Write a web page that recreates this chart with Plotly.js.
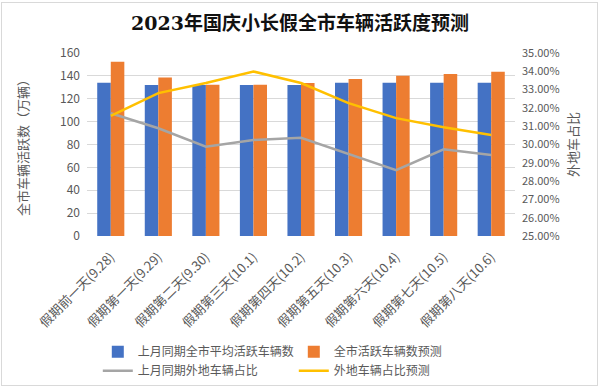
<!DOCTYPE html>
<html>
<head>
<meta charset="utf-8">
<script src="https://cdn.plot.ly/plotly-3.0.1.min.js"></script>
<style>
html,body{margin:0;padding:0;background:#fff;}
#wrap{position:absolute;left:1px;top:2px;width:597px;height:384px;border:1px solid #d9d9d9;box-sizing:border-box;}
#chart{position:absolute;left:0;top:0;width:600px;height:389px;}
</style>
</head>
<body>
<div id="wrap"></div>
<div id="chart"></div>
<script>
const categories = ["假期前一天(9.28)","假期第一天(9.29)","假期第二天(9.30)","假期第三天(10.1)","假期第四天(10.2)","假期第五天(10.3)","假期第六天(10.4)","假期第七天(10.5)","假期第八天(10.6)"];
const lastMonthActive = [134, 132, 132, 132, 132, 134, 134, 134, 134];
const forecastActive = [152.4, 138.6, 132.2, 132.2, 133.7, 137.2, 140.1, 141.6, 143.6];
const lastMonthOutsideShare = [0.3171, 0.3089, 0.2988, 0.3025, 0.3037, 0.2948, 0.2860, 0.2974, 0.2943];
const forecastOutsideShare = [0.3156, 0.3281, 0.3336, 0.3399, 0.3336, 0.3226, 0.3144, 0.3094, 0.3052];
const leftTicks = [0, 20, 40, 60, 80, 100, 120, 140, 160];
const rightTicks = [0.25, 0.26, 0.27, 0.28, 0.29, 0.30, 0.31, 0.32, 0.33, 0.34, 0.35];

const sans = '"Noto Sans CJK SC", "Noto Sans", sans-serif';
const traces = [
  {type:'bar', name:'上月同期全市平均活跃车辆数', x:categories, y:lastMonthActive, marker:{color:'#4472C4'}},
  {type:'bar', name:'全市活跃车辆数预测', x:categories, y:forecastActive, marker:{color:'#ED7D31'}},
  {type:'scatter', mode:'lines', name:'上月同期外地车辆占比', x:categories, y:lastMonthOutsideShare, yaxis:'y2', line:{color:'#A5A5A5', width:2.5}},
  {type:'scatter', mode:'lines', name:'外地车辆占比预测', x:categories, y:forecastOutsideShare, yaxis:'y2', line:{color:'#FFC000', width:2.5}}
];
const layout = {
  width:600, height:389,
  paper_bgcolor:'rgba(0,0,0,0)', plot_bgcolor:'rgba(0,0,0,0)',
  margin:{l:87, r:85, t:53, b:153},
  font:{family:sans, color:'#595959', size:11},
  title:{text:'2023年国庆小长假全市车辆活跃度预测', x:0.5, xanchor:'center', y:0.94, yanchor:'middle',
         font:{family:'"DejaVu Serif", "Noto Sans CJK SC", serif', size:19, color:'#111', weight:'bold'}},
  barmode:'group', bargap:0.43, bargroupgap:0,
  xaxis:{type:'category', tickangle:-45, showgrid:false, showline:false, ticks:'', tickfont:{size:13, color:'#595959'}, ticklabelstandoff:10, automargin:false},
  yaxis:{range:[0,160], tickvals:leftTicks, showgrid:true, gridcolor:'#d9d9d9', zeroline:false, showline:false, ticks:'',
         tickfont:{size:12, color:'#595959'}, ticklabelstandoff:6, automargin:false,
         title:{text:'全市车辆活跃数（万辆）', font:{size:13, color:'#595959'}, standoff:28}},
  yaxis2:{overlaying:'y', side:'right', range:[0.25,0.35], tickvals:rightTicks, tickformat:'.2%', showgrid:false, zeroline:false, ticks:'',
          tickfont:{size:11, color:'#595959'}, ticklabelstandoff:6, automargin:false,
          title:{text:'外地车占比', font:{size:13, color:'#595959'}, standoff:10}},
  legend:{orientation:'h', xref:'container', x:0.163, xanchor:'left', yref:'container', y:0.133, yanchor:'top', entrywidth:151, entrywidthmode:'pixels',
          font:{size:12, color:'#595959'}, traceorder:'normal', bgcolor:'rgba(0,0,0,0)'},
  showlegend:true
};
Plotly.newPlot('chart', traces, layout, {displayModeBar:false, staticPlot:true});
</script>
</body>
</html>
